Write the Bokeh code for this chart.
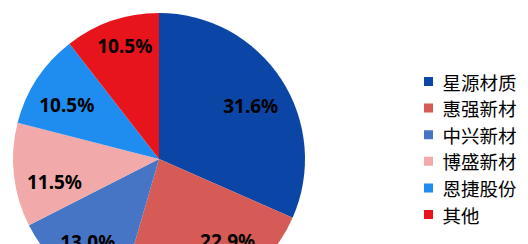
import math
from bokeh.plotting import figure
from bokeh.models import ColumnDataSource, Range1d
from bokeh.core.properties import value
from bokeh.embed import file_html
from bokeh.resources import INLINE

# Data
categories = ["星源材质", "惠强新材", "中兴新材", "博盛新材", "恩捷股份", "其他"]
shares = [31.6, 22.9, 13.0, 11.5, 10.5, 10.5]
labels = ["31.6%", "22.9%", "13.0%", "11.5%", "10.5%", "10.5%"]
colors = ["#0B45A6", "#D65A55", "#4675C6", "#F2A9A9", "#1F8CF0", "#E8141C"]

# label layout tweaks (best-fit style placement): angle nudge (deg, clockwise) and radius factor
label_nudge = [3.0, -15.0, 1.0, -6.0, -3.0, 2.0]
label_rfac = [0.726, 0.731, 0.75, 0.733, 0.732, 0.806]

W, H = 528, 244
p = figure(width=W, height=H, output_backend="svg", toolbar_location=None,
           x_range=Range1d(0, W), y_range=Range1d(0, H),
           min_border=0, min_border_left=0, min_border_right=0,
           min_border_top=0, min_border_bottom=0)
p.axis.visible = False
p.grid.visible = False
p.outline_line_color = None
p.background_fill_color = "white"
p.border_fill_color = "white"

cx, cy, R = 158.5, 244 - 158.5, 146
total = sum(shares)
starts, ends, lx, ly = [], [], [], []
acc = 0.0
for i, s in enumerate(shares):
    a0 = math.pi / 2 - 2 * math.pi * acc / total
    a1 = math.pi / 2 - 2 * math.pi * (acc + s) / total
    starts.append(a0)
    ends.append(a1)
    mid = (a0 + a1) / 2 - math.radians(label_nudge[i])
    lr = label_rfac[i] * R
    lx.append(cx + lr * math.cos(mid))
    ly.append(cy + lr * math.sin(mid))
    acc += s

src = ColumnDataSource(dict(start=starts, end=ends, color=colors,
                            lx=lx, ly=ly, label=labels))
p.wedge(x=cx, y=cy, radius=R, start_angle="start", end_angle="end",
        direction="clock", fill_color="color", line_color=None, source=src)
p.text(x="lx", y="ly", text="label", source=src, text_align="center",
       text_baseline="middle", text_font=value("Noto Sans"),
       text_font_style="bold", text_font_size="19px", text_color="black")

# Legend
leg_x = 428
leg_y0 = 244 - 81
step = 26.6
ys = [leg_y0 - i * step for i in range(len(categories))]
lsrc = ColumnDataSource(dict(y=ys, color=colors, name=categories))
p.rect(x=leg_x, y="y", width=9, height=9, fill_color="color",
       line_color=None, source=lsrc)
p.text(x=leg_x + 14, y="y", text="name", source=lsrc, text_align="left",
       text_baseline="middle", text_font=value("Noto Sans CJK SC"),
       text_font_size="18.5px", text_color="black")

open("out.html", "w").write(file_html(p, INLINE))
